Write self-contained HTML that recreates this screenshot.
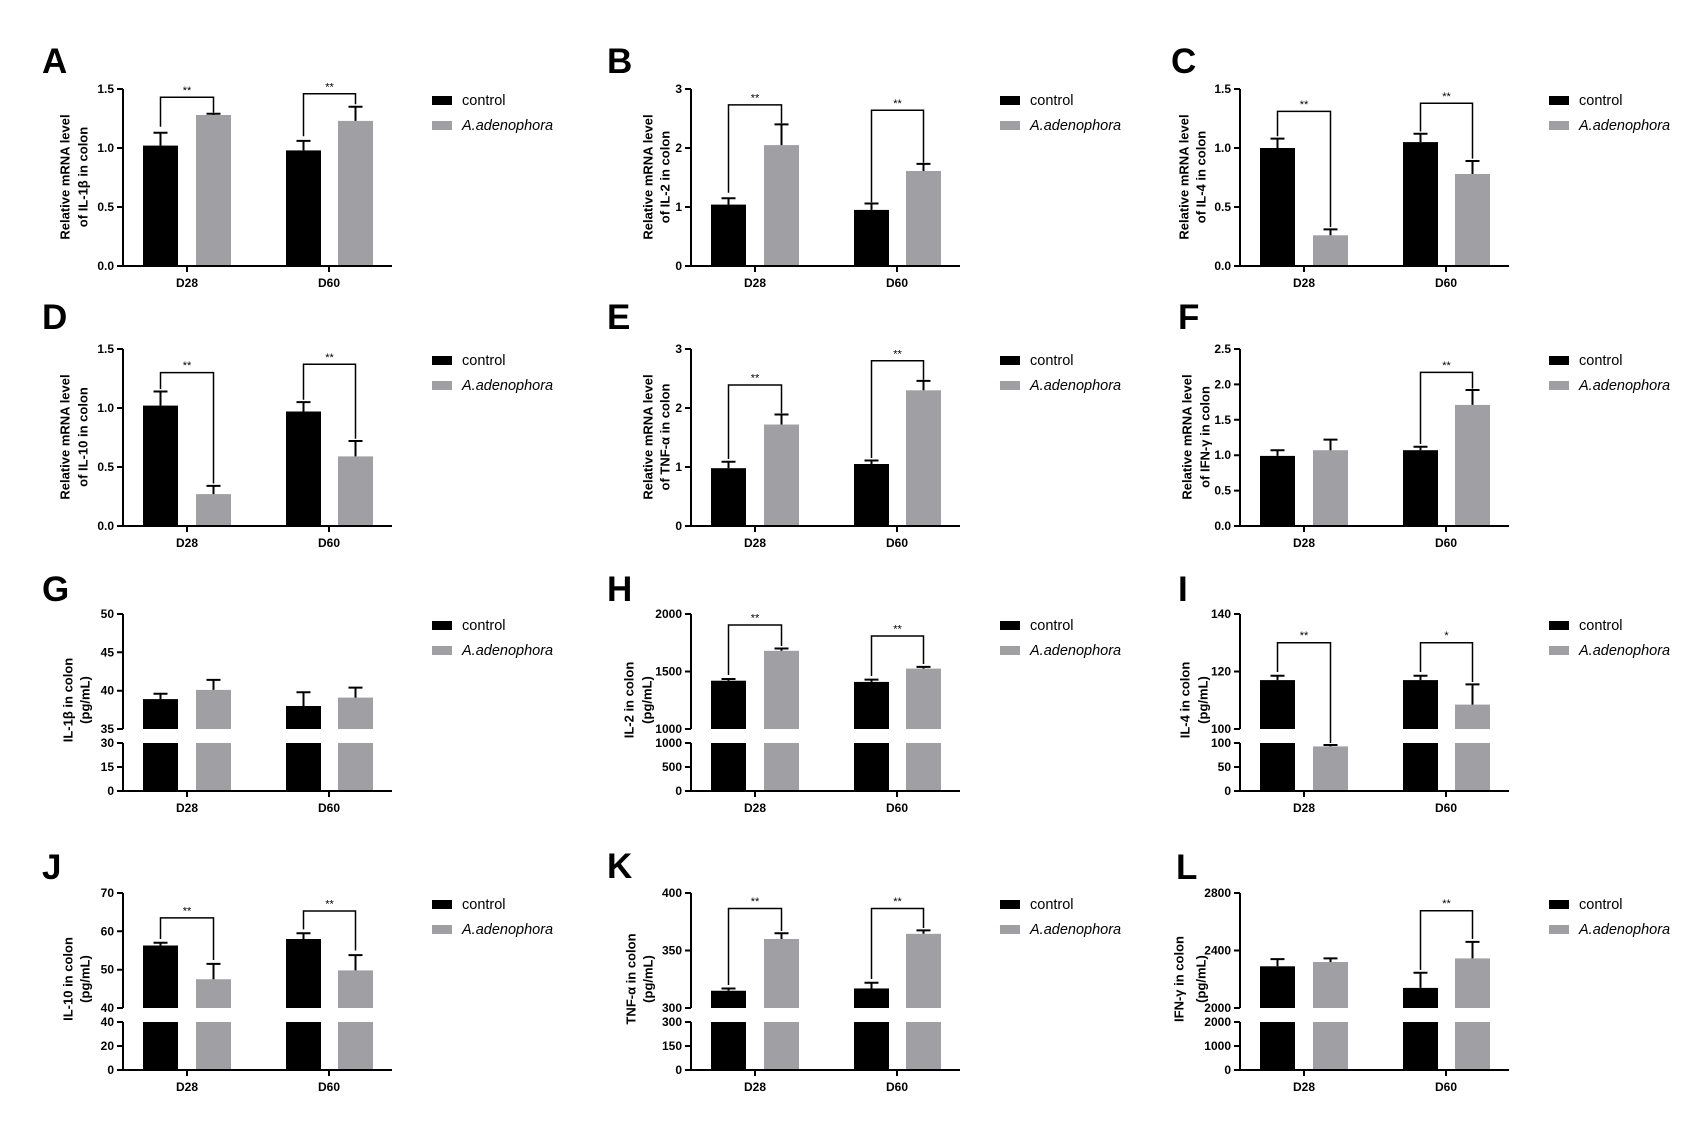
<!DOCTYPE html>
<html><head><meta charset="utf-8"><style>
html,body{margin:0;padding:0;background:#fff;}
svg{display:block;}
text{font-family:"Liberation Sans",Arial,sans-serif;fill:#000;}
.L{font-size:35px;font-weight:bold;}
.t{font-size:12px;font-weight:bold;text-anchor:end;}
.x{font-size:12px;font-weight:bold;text-anchor:middle;}
.s{font-size:11px;text-anchor:middle;}
.lg{font-size:14.5px;}
.yt{font-size:13px;font-weight:bold;text-anchor:middle;dominant-baseline:central;}
.ax{stroke:#000;stroke-width:2;fill:none;}
.e{stroke:#000;stroke-width:2;fill:none;}
.b{stroke:#000;stroke-width:1.5;fill:none;}
.k{fill:#000;}
.g{fill:#a09fa4;}
</style></head><body>
<svg width="1707" height="1135" viewBox="0 0 1707 1135" xmlns="http://www.w3.org/2000/svg">
<rect width="1707" height="1135" fill="#fff"/>

<!-- A -->
<g transform="translate(0,89)">
<text class="L" x="42" y="-16">A</text>
<text class="yt" transform="translate(65,88) rotate(-90)">Relative mRNA level</text>
<text class="yt" transform="translate(83,88) rotate(-90)">of IL-1β in colon</text>
<rect class="k" x="143" y="56.6" width="35" height="120.4"/><rect class="g" x="196" y="26" width="35" height="151"/>
<rect class="k" x="286" y="61.4" width="35" height="115.6"/><rect class="g" x="338" y="31.9" width="35" height="145.1"/>
<path class="e" d="M160.5,56.6V43.7M153.5,43.7H167.5M213.5,26V24.8M206.5,24.8H220.5M303.5,61.4V51.9M296.5,51.9H310.5M355.5,31.9V17.7M348.5,17.7H362.5"/>
<path class="b" d="M160.5,37.8V8.3H213.5V23.6M303.5,47.2V4.7H355.5V15.3"/>
<text class="s" x="187" y="5">**</text><text class="s" x="329.5" y="1.5">**</text>
<path class="ax" d="M123,0V177M117,177H392M117,0H123M117,59H123M117,118H123M187,177v6M329,177v6"/>
<text class="t" x="114" y="4">1.5</text><text class="t" x="114" y="63">1.0</text><text class="t" x="114" y="122">0.5</text><text class="t" x="114" y="181">0.0</text>
<text class="x" x="187" y="198">D28</text><text class="x" x="329" y="198">D60</text>
<rect class="k" x="432" y="7" width="20" height="9"/><text class="lg" x="462" y="16">control</text>
<rect class="g" x="432" y="32" width="20" height="9"/><text class="lg" x="462" y="41" font-style="italic">A.adenophora</text>
</g>

<!-- B -->
<g transform="translate(568,89)">
<text class="L" x="39" y="-16">B</text>
<text class="yt" transform="translate(80,88) rotate(-90)">Relative mRNA level</text>
<text class="yt" transform="translate(97,88) rotate(-90)">of IL-2 in colon</text>
<rect class="k" x="143" y="115.6" width="35" height="61.4"/><rect class="g" x="196" y="56.1" width="35" height="120.9"/>
<rect class="k" x="286" y="120.9" width="35" height="56.1"/><rect class="g" x="338" y="82" width="35" height="95"/>
<path class="e" d="M160.5,115.6V109.2M153.5,109.2H167.5M213.5,56.1V35.4M206.5,35.4H220.5M303.5,120.9V114.5M296.5,114.5H310.5M355.5,82V74.9M348.5,74.9H362.5"/>
<path class="b" d="M160.5,103.8V15.9H213.5V34.2M303.5,113.3V21.2H355.5V73.8"/>
<text class="s" x="187" y="12.5">**</text><text class="s" x="329.5" y="17.8">**</text>
<path class="ax" d="M123,0V177M117,177H392M117,0H123M117,59H123M117,118H123M187,177v6M329,177v6"/>
<text class="t" x="114" y="4">3</text><text class="t" x="114" y="63">2</text><text class="t" x="114" y="122">1</text><text class="t" x="114" y="181">0</text>
<text class="x" x="187" y="198">D28</text><text class="x" x="329" y="198">D60</text>
<rect class="k" x="432" y="7" width="20" height="9"/><text class="lg" x="462" y="16">control</text>
<rect class="g" x="432" y="32" width="20" height="9"/><text class="lg" x="462" y="41" font-style="italic">A.adenophora</text>
</g>

<!-- C -->
<g transform="translate(1117,89)">
<text class="L" x="54" y="-16">C</text>
<text class="yt" transform="translate(67,88) rotate(-90)">Relative mRNA level</text>
<text class="yt" transform="translate(84,88) rotate(-90)">of IL-4 in colon</text>
<rect class="k" x="143" y="59" width="35" height="118"/><rect class="g" x="196" y="146.3" width="35" height="30.7"/>
<rect class="k" x="286" y="53.1" width="35" height="123.9"/><rect class="g" x="338" y="85" width="35" height="92"/>
<path class="e" d="M160.5,59V49.6M153.5,49.6H167.5M213.5,146.3V140.4M206.5,140.4H220.5M303.5,53.1V44.8M296.5,44.8H310.5M355.5,85V72M348.5,72H362.5"/>
<path class="b" d="M160.5,47.2V22.4H213.5V138.1M303.5,42.5V14.2H355.5V69.6"/>
<text class="s" x="187" y="19">**</text><text class="s" x="329.5" y="10.8">**</text>
<path class="ax" d="M123,0V177M117,177H392M117,0H123M117,59H123M117,118H123M187,177v6M329,177v6"/>
<text class="t" x="114" y="4">1.5</text><text class="t" x="114" y="63">1.0</text><text class="t" x="114" y="122">0.5</text><text class="t" x="114" y="181">0.0</text>
<text class="x" x="187" y="198">D28</text><text class="x" x="329" y="198">D60</text>
<rect class="k" x="432" y="7" width="20" height="9"/><text class="lg" x="462" y="16">control</text>
<rect class="g" x="432" y="32" width="20" height="9"/><text class="lg" x="462" y="41" font-style="italic">A.adenophora</text>
</g>

<!-- D -->
<g transform="translate(0,349)">
<text class="L" x="42" y="-20">D</text>
<text class="yt" transform="translate(65,88) rotate(-90)">Relative mRNA level</text>
<text class="yt" transform="translate(83,88) rotate(-90)">of IL-10 in colon</text>
<rect class="k" x="143" y="56.6" width="35" height="120.4"/><rect class="g" x="196" y="145.1" width="35" height="31.9"/>
<rect class="k" x="286" y="62.5" width="35" height="114.5"/><rect class="g" x="338" y="107.4" width="35" height="69.6"/>
<path class="e" d="M160.5,56.6V42.5M153.5,42.5H167.5M213.5,145.1V136.9M206.5,136.9H220.5M303.5,62.5V53.1M296.5,53.1H310.5M355.5,107.4V92M348.5,92H362.5"/>
<path class="b" d="M160.5,40.1V23.6H213.5V134.5M303.5,50.7V15.3H355.5V89.7"/>
<text class="s" x="187" y="20.2">**</text><text class="s" x="329.5" y="11.9">**</text>
<path class="ax" d="M123,0V177M117,177H392M117,0H123M117,59H123M117,118H123M187,177v6M329,177v6"/>
<text class="t" x="114" y="4">1.5</text><text class="t" x="114" y="63">1.0</text><text class="t" x="114" y="122">0.5</text><text class="t" x="114" y="181">0.0</text>
<text class="x" x="187" y="198">D28</text><text class="x" x="329" y="198">D60</text>
<rect class="k" x="432" y="7" width="20" height="9"/><text class="lg" x="462" y="16">control</text>
<rect class="g" x="432" y="32" width="20" height="9"/><text class="lg" x="462" y="41" font-style="italic">A.adenophora</text>
</g>

<!-- E -->
<g transform="translate(568,349)">
<text class="L" x="39" y="-20">E</text>
<text class="yt" transform="translate(80,88) rotate(-90)">Relative mRNA level</text>
<text class="yt" transform="translate(97,88) rotate(-90)">of TNF-α in colon</text>
<rect class="k" x="143" y="119.2" width="35" height="57.8"/><rect class="g" x="196" y="75.5" width="35" height="101.5"/>
<rect class="k" x="286" y="115" width="35" height="62"/><rect class="g" x="338" y="41.3" width="35" height="135.7"/>
<path class="e" d="M160.5,119.2V112.7M153.5,112.7H167.5M213.5,75.5V65.5M206.5,65.5H220.5M303.5,115V111.5M296.5,111.5H310.5M355.5,41.3V31.9M348.5,31.9H362.5"/>
<path class="b" d="M160.5,110V36H213.5V64.3M303.5,109V11.8H355.5V30.7"/>
<text class="s" x="187" y="32.6">**</text><text class="s" x="329.5" y="8.4">**</text>
<path class="ax" d="M123,0V177M117,177H392M117,0H123M117,59H123M117,118H123M187,177v6M329,177v6"/>
<text class="t" x="114" y="4">3</text><text class="t" x="114" y="63">2</text><text class="t" x="114" y="122">1</text><text class="t" x="114" y="181">0</text>
<text class="x" x="187" y="198">D28</text><text class="x" x="329" y="198">D60</text>
<rect class="k" x="432" y="7" width="20" height="9"/><text class="lg" x="462" y="16">control</text>
<rect class="g" x="432" y="32" width="20" height="9"/><text class="lg" x="462" y="41" font-style="italic">A.adenophora</text>
</g>

<!-- F -->
<g transform="translate(1117,349)">
<text class="L" x="61" y="-20">F</text>
<text class="yt" transform="translate(70,88) rotate(-90)">Relative mRNA level</text>
<text class="yt" transform="translate(88,88) rotate(-90)">of IFN-γ in colon</text>
<rect class="k" x="143" y="106.9" width="35" height="70.1"/><rect class="g" x="196" y="101.2" width="35" height="75.8"/>
<rect class="k" x="286" y="101.2" width="35" height="75.8"/><rect class="g" x="338" y="55.9" width="35" height="121.1"/>
<path class="e" d="M160.5,106.9V101.2M153.5,101.2H167.5M213.5,101.2V90.6M206.5,90.6H220.5M303.5,101.2V97.7M296.5,97.7H310.5M355.5,55.9V41M348.5,41H362.5"/>
<path class="b" d="M303.5,95V23.4H355.5V39.6"/>
<text class="s" x="329.5" y="20">**</text>
<path class="ax" d="M123,0V177M117,177H392M117,0H123M117,35.4H123M117,70.8H123M117,106.2H123M117,141.6H123M187,177v6M329,177v6"/>
<text class="t" x="114" y="4">2.5</text><text class="t" x="114" y="39.4">2.0</text><text class="t" x="114" y="74.8">1.5</text><text class="t" x="114" y="110.2">1.0</text><text class="t" x="114" y="145.6">0.5</text><text class="t" x="114" y="181">0.0</text>
<text class="x" x="187" y="198">D28</text><text class="x" x="329" y="198">D60</text>
<rect class="k" x="432" y="7" width="20" height="9"/><text class="lg" x="462" y="16">control</text>
<rect class="g" x="432" y="32" width="20" height="9"/><text class="lg" x="462" y="41" font-style="italic">A.adenophora</text>
</g>

<!-- G -->
<g transform="translate(0,614)">
<text class="L" x="42" y="-13">G</text>
<text class="yt" transform="translate(68,86) rotate(-90)">IL-1β in colon</text>
<text class="yt" transform="translate(85,86) rotate(-90)">(pg/mL)</text>
<rect class="k" x="143" y="85.1" width="35" height="29.9"/><rect class="g" x="196" y="75.9" width="35" height="39.1"/>
<rect class="k" x="286" y="92" width="35" height="23"/><rect class="g" x="338" y="83.6" width="35" height="31.4"/>
<rect class="k" x="143" y="129" width="35" height="48"/><rect class="g" x="196" y="129" width="35" height="48"/>
<rect class="k" x="286" y="129" width="35" height="48"/><rect class="g" x="338" y="129" width="35" height="48"/>
<path class="e" d="M160.5,85.1V79.7M153.5,79.7H167.5M213.5,75.9V65.9M206.5,65.9H220.5M303.5,92V78.2M296.5,78.2H310.5M355.5,83.6V73.6M348.5,73.6H362.5"/>
<path class="ax" d="M123,0V115M123,129V177M117,177H392M117,0H123M117,38.3H123M117,76.7H123M117,115H123M117,129H123M117,153H123M187,177v6M329,177v6"/>
<text class="t" x="114" y="4">50</text><text class="t" x="114" y="42.3">45</text><text class="t" x="114" y="80.7">40</text><text class="t" x="114" y="119">35</text>
<text class="t" x="114" y="133">30</text><text class="t" x="114" y="157">15</text><text class="t" x="114" y="181">0</text>
<text class="x" x="187" y="198">D28</text><text class="x" x="329" y="198">D60</text>
<rect class="k" x="432" y="7" width="20" height="9"/><text class="lg" x="462" y="16">control</text>
<rect class="g" x="432" y="32" width="20" height="9"/><text class="lg" x="462" y="41" font-style="italic">A.adenophora</text>
</g>

<!-- H -->
<g transform="translate(568,614)">
<text class="L" x="39" y="-13">H</text>
<text class="yt" transform="translate(61,86) rotate(-90)">IL-2 in colon</text>
<text class="yt" transform="translate(79,86) rotate(-90)">(pg/mL)</text>
<rect class="k" x="143" y="66.7" width="35" height="48.3"/><rect class="g" x="196" y="36.8" width="35" height="78.2"/>
<rect class="k" x="286" y="67.9" width="35" height="47.1"/><rect class="g" x="338" y="54.6" width="35" height="60.4"/>
<rect class="k" x="143" y="129" width="35" height="48"/><rect class="g" x="196" y="129" width="35" height="48"/>
<rect class="k" x="286" y="129" width="35" height="48"/><rect class="g" x="338" y="129" width="35" height="48"/>
<path class="e" d="M160.5,66.7V65M153.5,65H167.5M213.5,36.8V34.5M206.5,34.5H220.5M303.5,67.9V65.6M296.5,65.6H310.5M355.5,54.6V52.9M348.5,52.9H362.5"/>
<path class="b" d="M160.5,61V11H213.5V32M303.5,62V22H355.5V50"/>
<text class="s" x="187" y="7.5">**</text><text class="s" x="329.5" y="18.5">**</text>
<path class="ax" d="M123,0V115M123,129V177M117,177H392M117,0H123M117,57.5H123M117,115H123M117,129H123M117,153H123M187,177v6M329,177v6"/>
<text class="t" x="114" y="4">2000</text><text class="t" x="114" y="61.5">1500</text><text class="t" x="114" y="119">1000</text>
<text class="t" x="114" y="133">1000</text><text class="t" x="114" y="157">500</text><text class="t" x="114" y="181">0</text>
<text class="x" x="187" y="198">D28</text><text class="x" x="329" y="198">D60</text>
<rect class="k" x="432" y="7" width="20" height="9"/><text class="lg" x="462" y="16">control</text>
<rect class="g" x="432" y="32" width="20" height="9"/><text class="lg" x="462" y="41" font-style="italic">A.adenophora</text>
</g>

<!-- I -->
<g transform="translate(1117,614)">
<text class="L" x="61" y="-13">I</text>
<text class="yt" transform="translate(68,86) rotate(-90)">IL-4 in colon</text>
<text class="yt" transform="translate(86,86) rotate(-90)">(pg/mL)</text>
<rect class="k" x="143" y="66.1" width="35" height="48.9"/>
<rect class="k" x="286" y="66.1" width="35" height="48.9"/><rect class="g" x="338" y="90.6" width="35" height="24.4"/>
<rect class="k" x="143" y="129" width="35" height="48"/><rect class="g" x="196" y="132.4" width="35" height="44.6"/>
<rect class="k" x="286" y="129" width="35" height="48"/><rect class="g" x="338" y="129" width="35" height="48"/>
<path class="e" d="M160.5,66.1V61.8M153.5,61.8H167.5M213.5,132.4V131M206.5,131H220.5M303.5,66.1V61.8M296.5,61.8H310.5M355.5,90.6V70.4M348.5,70.4H362.5"/>
<path class="b" d="M160.5,58V28.75H213.5V129M303.5,58V28.75H355.5V68"/>
<text class="s" x="187" y="25">**</text><text class="s" x="329.5" y="25">*</text>
<path class="ax" d="M123,0V115M123,129V177M117,177H392M117,0H123M117,57.5H123M117,115H123M117,129H123M117,153H123M187,177v6M329,177v6"/>
<text class="t" x="114" y="4">140</text><text class="t" x="114" y="61.5">120</text><text class="t" x="114" y="119">100</text>
<text class="t" x="114" y="133">100</text><text class="t" x="114" y="157">50</text><text class="t" x="114" y="181">0</text>
<text class="x" x="187" y="198">D28</text><text class="x" x="329" y="198">D60</text>
<rect class="k" x="432" y="7" width="20" height="9"/><text class="lg" x="462" y="16">control</text>
<rect class="g" x="432" y="32" width="20" height="9"/><text class="lg" x="462" y="41" font-style="italic">A.adenophora</text>
</g>

<!-- J -->
<g transform="translate(0,893)">
<text class="L" x="42" y="-14">J</text>
<text class="yt" transform="translate(68,86) rotate(-90)">IL-10 in colon</text>
<text class="yt" transform="translate(85,86) rotate(-90)">(pg/mL)</text>
<rect class="k" x="143" y="52.5" width="35" height="62.5"/><rect class="g" x="196" y="86.25" width="35" height="28.75"/>
<rect class="k" x="286" y="46" width="35" height="69"/><rect class="g" x="338" y="77.4" width="35" height="37.6"/>
<rect class="k" x="143" y="129" width="35" height="48"/><rect class="g" x="196" y="129" width="35" height="48"/>
<rect class="k" x="286" y="129" width="35" height="48"/><rect class="g" x="338" y="129" width="35" height="48"/>
<path class="e" d="M160.5,52.5V49.8M153.5,49.8H167.5M213.5,86.25V70.9M206.5,70.9H220.5M303.5,46V40.3M296.5,40.3H310.5M355.5,77.4V62.1M348.5,62.1H362.5"/>
<path class="b" d="M160.5,46V24.9H213.5V67M303.5,36.4V18H355.5V57.5"/>
<text class="s" x="187" y="21.5">**</text><text class="s" x="329.5" y="14.6">**</text>
<path class="ax" d="M123,0V115M123,129V177M117,177H392M117,0H123M117,38.3H123M117,76.7H123M117,115H123M117,129H123M117,153H123M187,177v6M329,177v6"/>
<text class="t" x="114" y="4">70</text><text class="t" x="114" y="42.3">60</text><text class="t" x="114" y="80.7">50</text><text class="t" x="114" y="119">40</text>
<text class="t" x="114" y="133">40</text><text class="t" x="114" y="157">20</text><text class="t" x="114" y="181">0</text>
<text class="x" x="187" y="198">D28</text><text class="x" x="329" y="198">D60</text>
<rect class="k" x="432" y="7" width="20" height="9"/><text class="lg" x="462" y="16">control</text>
<rect class="g" x="432" y="32" width="20" height="9"/><text class="lg" x="462" y="41" font-style="italic">A.adenophora</text>
</g>

<!-- K -->
<g transform="translate(568,893)">
<text class="L" x="39" y="-15">K</text>
<text class="yt" transform="translate(63,86) rotate(-90)">TNF-α in colon</text>
<text class="yt" transform="translate(80,86) rotate(-90)">(pg/mL)</text>
<rect class="k" x="143" y="97.75" width="35" height="17.25"/><rect class="g" x="196" y="46" width="35" height="69"/>
<rect class="k" x="286" y="95.45" width="35" height="19.55"/><rect class="g" x="338" y="40.8" width="35" height="74.2"/>
<rect class="k" x="143" y="129" width="35" height="48"/><rect class="g" x="196" y="129" width="35" height="48"/>
<rect class="k" x="286" y="129" width="35" height="48"/><rect class="g" x="338" y="129" width="35" height="48"/>
<path class="e" d="M160.5,97.75V95.45M153.5,95.45H167.5M213.5,46V40.25M206.5,40.25H220.5M303.5,95.45V89.7M296.5,89.7H310.5M355.5,40.8V37.4M348.5,37.4H362.5"/>
<path class="b" d="M160.5,92V15.5H213.5V38M303.5,86V15.5H355.5V35"/>
<text class="s" x="187" y="12">**</text><text class="s" x="329.5" y="12">**</text>
<path class="ax" d="M123,0V115M123,129V177M117,177H392M117,0H123M117,57.5H123M117,115H123M117,129H123M117,153H123M187,177v6M329,177v6"/>
<text class="t" x="114" y="4">400</text><text class="t" x="114" y="61.5">350</text><text class="t" x="114" y="119">300</text>
<text class="t" x="114" y="133">300</text><text class="t" x="114" y="157">150</text><text class="t" x="114" y="181">0</text>
<text class="x" x="187" y="198">D28</text><text class="x" x="329" y="198">D60</text>
<rect class="k" x="432" y="7" width="20" height="9"/><text class="lg" x="462" y="16">control</text>
<rect class="g" x="432" y="32" width="20" height="9"/><text class="lg" x="462" y="41" font-style="italic">A.adenophora</text>
</g>

<!-- L -->
<g transform="translate(1117,893)">
<text class="L" x="59" y="-14">L</text>
<text class="yt" transform="translate(62,86) rotate(-90)">IFN-γ in colon</text>
<text class="yt" transform="translate(84,86) rotate(-90)">(pg/mL)</text>
<rect class="k" x="143" y="73.3" width="35" height="41.7"/><rect class="g" x="196" y="69" width="35" height="46"/>
<rect class="k" x="286" y="94.9" width="35" height="20.1"/><rect class="g" x="338" y="65.4" width="35" height="49.6"/>
<rect class="k" x="143" y="129" width="35" height="48"/><rect class="g" x="196" y="129" width="35" height="48"/>
<rect class="k" x="286" y="129" width="35" height="48"/><rect class="g" x="338" y="129" width="35" height="48"/>
<path class="e" d="M160.5,73.3V66.1M153.5,66.1H167.5M213.5,69V65.4M206.5,65.4H220.5M303.5,94.9V79.8M296.5,79.8H310.5M355.5,65.4V48.9M348.5,48.9H362.5"/>
<path class="b" d="M303.5,77V17.7H355.5V46"/>
<text class="s" x="329.5" y="14.2">**</text>
<path class="ax" d="M123,0V115M123,129V177M117,177H392M117,0H123M117,57.5H123M117,115H123M117,129H123M117,153H123M187,177v6M329,177v6"/>
<text class="t" x="114" y="4">2800</text><text class="t" x="114" y="61.5">2400</text><text class="t" x="114" y="119">2000</text>
<text class="t" x="114" y="133">2000</text><text class="t" x="114" y="157">1000</text><text class="t" x="114" y="181">0</text>
<text class="x" x="187" y="198">D28</text><text class="x" x="329" y="198">D60</text>
<rect class="k" x="432" y="7" width="20" height="9"/><text class="lg" x="462" y="16">control</text>
<rect class="g" x="432" y="32" width="20" height="9"/><text class="lg" x="462" y="41" font-style="italic">A.adenophora</text>
</g>
</svg>
</body></html>
